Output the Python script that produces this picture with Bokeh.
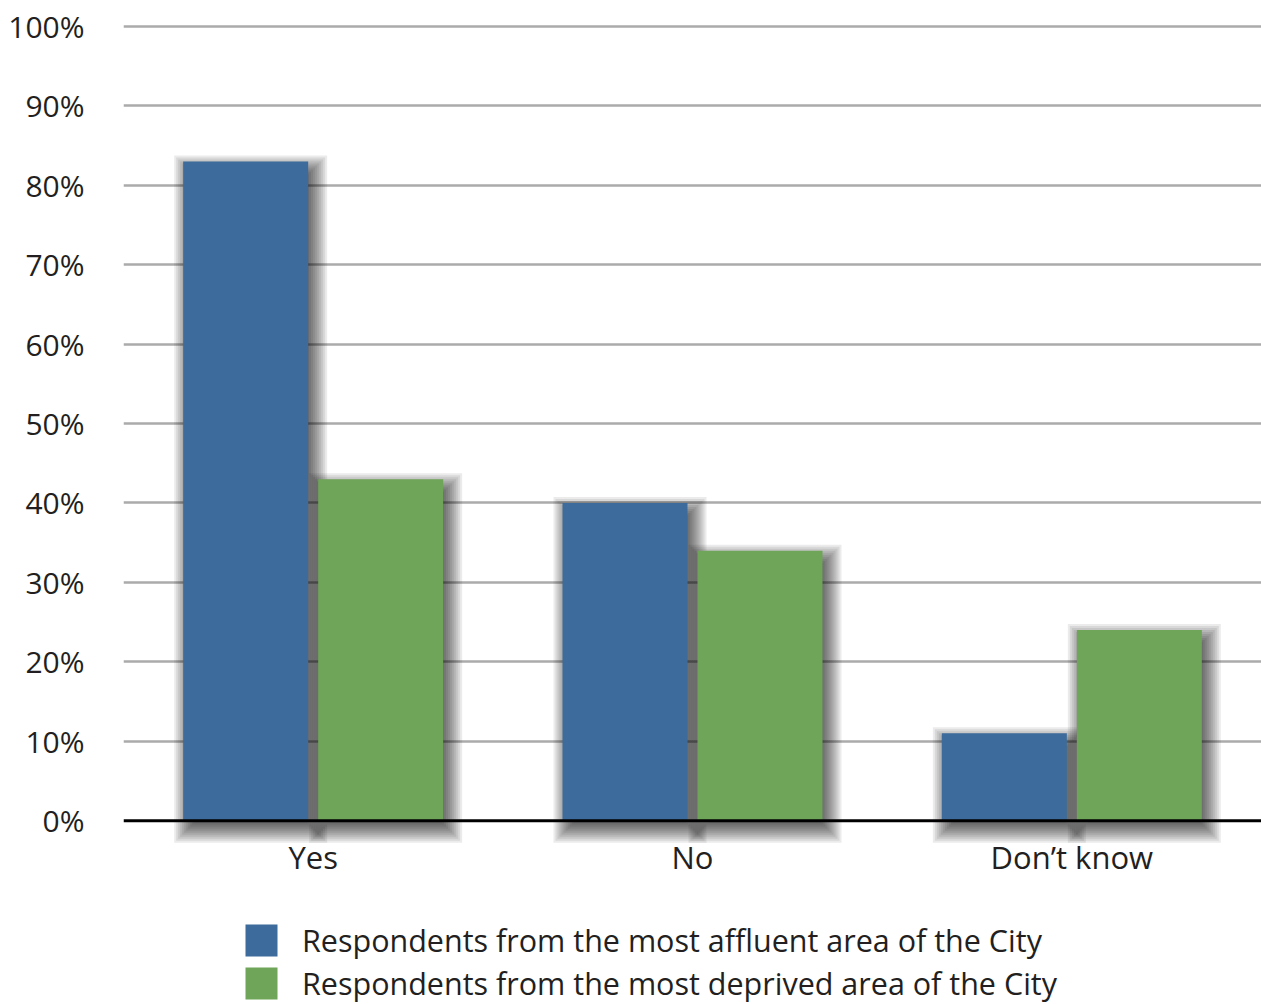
import numpy as np
from bokeh.plotting import figure
from bokeh.layouts import column
from bokeh.models import Range1d, FixedTicker, Span, Legend, LegendItem, ColumnDataSource
from bokeh.embed import file_html
from bokeh.resources import INLINE

categories = ["Yes", "No", "Don\u2019t know"]
affluent = [83, 40, 11]
deprived = [43, 34, 24]
series_names = ["Respondents from the most affluent area of the City",
                "Respondents from the most deprived area of the City"]
colors = ["#3d6b9b", "#6fa559"]
y_ticks = [0, 10, 20, 30, 40, 50, 60, 70, 80, 90, 100]

W, H = 1261, 1004
H1 = 900
left_b = 123
frame_w = W - left_b
y0, y1 = -3.5, 101
unit = 7.94
top_b = int(round(26 - (y1 - 100) * unit))
frame_h = int(round((y1 - y0) * unit))
bottom_b = H1 - top_b - frame_h

p = figure(width=W, height=H1, output_backend="svg", toolbar_location=None,
           x_range=Range1d(0, 3), y_range=Range1d(y0, y1),
           min_border_left=left_b, min_border_right=0, min_border_top=top_b,
           min_border_bottom=bottom_b)
p.outline_line_color = None
p.background_fill_color = "white"

xpx = 3 / frame_w
ypx = (y1 - y0) / frame_h

centers = np.arange(len(categories)) + 0.5
bw = 125 * xpx
off = 67.5 * xpx

txt = "#231f20"
font = "Open Sans"
fs = "30px"

# grid
p.xgrid.grid_line_color = None
p.ygrid.ticker = FixedTicker(ticks=y_ticks[1:])
p.ygrid.grid_line_color = "#ababab"
p.ygrid.grid_line_width = 2.5

# drop shadows (soft blur, offset right/down)
for vals, o in ((affluent, -off), (deprived, off)):
    vals = np.array(vals, dtype=float)
    l = centers + o - bw / 2 + 5 * xpx
    r = centers + o + bw / 2 + 5 * xpx
    t = vals - 8 * ypx
    b = np.zeros_like(vals) - 8 * ypx
    for e in range(-14, 15, 2):
        p.quad(left=l - e * xpx, right=r + e * xpx, top=t + e * ypx, bottom=b - e * ypx,
               fill_color="black", fill_alpha=0.08, line_color=None)

renderers = []
for vals, o, c in ((affluent, -off, colors[0]), (deprived, off, colors[1])):
    src = ColumnDataSource(dict(x=centers + o, top=vals))
    r = p.vbar(x="x", top="top", bottom=0, width=bw, source=src, fill_color=c, line_color=None)
    renderers.append(r)

zero = Span(location=0, dimension="width", line_color="black", line_width=3)
p.add_layout(zero)

# axes
p.yaxis.ticker = FixedTicker(ticks=y_ticks)
p.yaxis.major_label_overrides = {v: f"{v}%" for v in y_ticks}
p.yaxis.axis_line_color = None
p.yaxis.major_tick_line_color = None
p.yaxis.minor_tick_line_color = None
p.yaxis.major_label_standoff = 33
p.yaxis.major_label_text_font = font
p.yaxis.major_label_text_font_size = fs
p.yaxis.major_label_text_color = txt

p.xaxis.ticker = FixedTicker(ticks=list(centers))
p.xaxis.major_label_overrides = {float(c): n for c, n in zip(centers, categories)}
p.xaxis.axis_line_color = None
p.xaxis.major_tick_line_color = None
p.xaxis.minor_tick_line_color = None
p.xaxis.major_label_standoff = -19
p.xaxis.major_label_text_font = font
p.xaxis.major_label_text_font_size = "31px"
p.xaxis.major_label_text_color = txt

# legend figure below (its bars lie outside its view; only the legend shows)
H2 = H - H1
q = figure(width=W, height=H2, output_backend="svg", toolbar_location=None,
           x_range=Range1d(0, 3), y_range=Range1d(200, 201),
           x_axis_location=None, y_axis_location=None,
           min_border_left=0, min_border_right=0, min_border_top=0, min_border_bottom=0)
q.grid.visible = False
q.outline_line_color = None
leg_r = []
for vals, o, c in ((affluent, -off, colors[0]), (deprived, off, colors[1])):
    leg_r.append(q.vbar(x=centers + o, top=vals, width=bw, fill_color=c, line_color=None))

legend = Legend(items=[LegendItem(label=series_names[i], renderers=[leg_r[i]]) for i in range(2)],
                location=(118, 0), orientation="vertical",
                glyph_width=40, glyph_height=40, spacing=1, label_standoff=21,
                padding=0, margin=0, border_line_color=None, background_fill_alpha=0,
                label_text_font=font, label_text_font_size="30.5px", label_text_color=txt,
                label_height=40)
q.add_layout(legend, "center")

open("out.html", "w").write(file_html(column(p, q, spacing=0), INLINE))
